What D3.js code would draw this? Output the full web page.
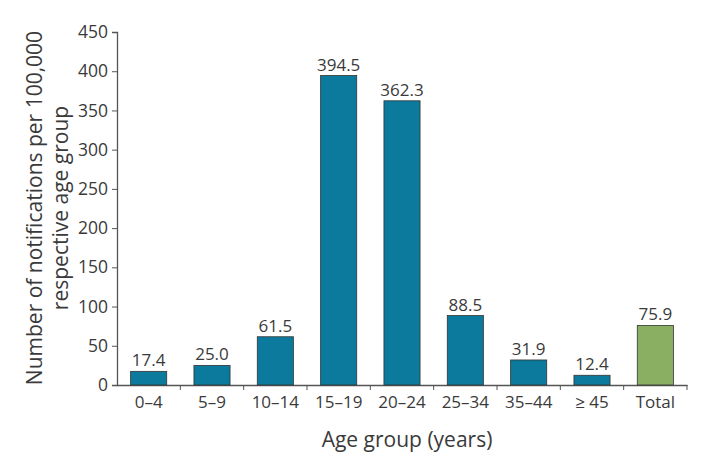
<!DOCTYPE html>
<html><head><meta charset="utf-8">
<script src="https://cdn.jsdelivr.net/npm/d3@7"></script>
<style>body{margin:0;background:#fff}svg text{font-family:"Open Sans","DejaVu Sans",sans-serif;fill:#3a3a3a}</style>
</head><body><svg id="c" width="703" height="470"></svg>
<script>
const categories = ["0–4","5–9","10–14","15–19","20–24","25–34","35–44","≥ 45","Total"];
const values = [17.4,25.0,61.5,394.5,362.3,88.5,31.9,12.4,75.9];
const labels = ["17.4","25.0","61.5","394.5","362.3","88.5","31.9","12.4","75.9"];
const yTicks = [0,50,100,150,200,250,300,350,400,450];

const svg = d3.select("#c");
const m = {l:117, r:16, t:32, b:85};
const W = 703, H = 470;
const x = d3.scaleBand().domain(categories).range([m.l, W-m.r]).paddingInner(0.43).paddingOuter(0.215);
const y = d3.scaleLinear().domain([0,450]).range([H-m.b, m.t]);

const gy = svg.append("g").attr("transform",`translate(${m.l},0)`)
  .call(d3.axisLeft(y).tickValues(yTicks).tickSize(5).tickPadding(4));
gy.selectAll("text").style("font-size","17.5px");
const gx = svg.append("g").attr("transform",`translate(0,${H-m.b})`)
  .call(d3.axisBottom(x).tickSize(0).tickPadding(11));
gx.selectAll("text").style("font-size","17px");
const bounds = d3.range(1, categories.length+1).map(i => m.l + i*(W-m.r-m.l)/categories.length);
gx.selectAll(".bt").data(bounds).enter().append("line")
  .attr("x1",d=>d).attr("x2",d=>d).attr("y1",0).attr("y2",5).attr("stroke","#555");
svg.selectAll(".domain").attr("stroke","#555").attr("stroke-width",1.3);
svg.selectAll(".tick line").attr("stroke","#555");

svg.selectAll("rect.bar").data(values).enter().append("rect")
  .attr("x",(d,i)=>x(categories[i])).attr("width",x.bandwidth())
  .attr("y",d=>y(d)).attr("height",d=>y(0)-y(d))
  .attr("fill",(d,i)=>categories[i]==="Total"?"#8aae62":"#0b7a9c")
  .attr("stroke","#333").attr("stroke-width",0.8);

svg.selectAll("text.vl").data(values).enter().append("text")
  .attr("x",(d,i)=>x(categories[i])+x.bandwidth()/2).attr("y",d=>y(d)-5)
  .attr("text-anchor","middle").style("font-size","17px").text((d,i)=>labels[i]);

svg.append("text").attr("x",407).attr("y",447).attr("text-anchor","middle")
  .style("font-size","21px").text("Age group (years)");
const yl = svg.append("text").attr("transform","translate(0,208) rotate(-90)").attr("text-anchor","middle").style("font-size","21px");
yl.append("tspan").attr("x",0).attr("y",42).text("Number of notifications per 100,000");
yl.append("tspan").attr("x",0).attr("y",68).text("respective age group");
</script></body></html>
